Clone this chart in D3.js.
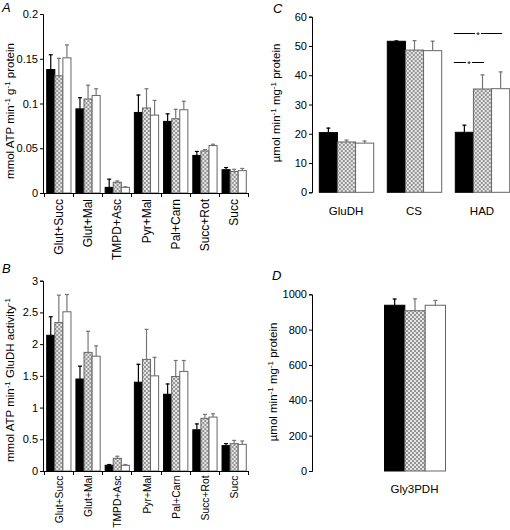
<!DOCTYPE html>
<html><head><meta charset="utf-8">
<script src="https://cdn.jsdelivr.net/npm/d3@7"></script>
<style>
body{margin:0;background:#fff}
text{font-family:"Liberation Sans",Arial,Helvetica,sans-serif;fill:#000}
</style>
</head><body>
<svg id="chart" width="510" height="530"></svg>
<script>
// ---------- data ----------
const substrates = ["Glut+Succ","Glut+Mal","TMPD+Asc","Pyr+Mal","Pal+Carn","Succ+Rot","Succ"];
const seriesNames = ["black","hatch","white"];

const aBlack    = [0.138,0.094,0.0063,0.090,0.080,0.042,0.026];
const aBlackErr = [0.017,0.013,0.0097,0.020,0.009,0.005,0.003];
const aHatch    = [0.131,0.105,0.012,0.095,0.083,0.047,0.024];
const aHatchErr = [0.020,0.016,0.002,0.022,0.011,0.002,0.003];
const aWhite    = [0.151,0.109,0.0063,0.087,0.093,0.053,0.025];
const aWhiteErr = [0.015,0.008,0.0012,0.017,0.010,0.002,0.003];
const aTicks    = [0,0.05,0.1,0.15,0.2];
const aTickLabels = ["0","0.05","0.1","0.15","0.2"];

const bBlack    = [2.14,1.45,0.09,1.40,1.21,0.65,0.40];
const bBlackErr = [0.30,0.21,0.02,0.29,0.17,0.10,0.04];
const bHatch    = [2.34,1.87,0.20,1.76,1.49,0.83,0.43];
const bHatchErr = [0.44,0.34,0.04,0.48,0.26,0.07,0.06];
const bWhite    = [2.51,1.81,0.09,1.50,1.57,0.85,0.42];
const bWhiteErr = [0.28,0.17,0.02,0.30,0.18,0.06,0.06];
const bTicks    = [0,0.5,1,1.5,2,2.5,3];
const bTickLabels = ["0","0.5","1","1.5","2","2.5","3"];

const enzymes   = ["GluDH","CS","HAD"];
const cBlack    = [20.4,51.6,20.5];
const cBlackErr = [1.7,0.3,2.6];
const cHatch    = [17.2,48.6,35.3];
const cHatchErr = [0.8,3.4,5.0];
const cWhite    = [16.8,48.4,35.4];
const cWhiteErr = [0.9,3.4,5.9];
const cTicks    = [0,10,20,30,40,50,60];
// significance bars on HAD: from black to target series, at data height
const cSigTargets = ["white","hatch"];
const cSigLevels  = [54.3,44.6];

const dEnzymes  = ["Gly3PDH"];
const dBlack    = [938];
const dBlackErr = [38];
const dHatch    = [907];
const dHatchErr = [70];
const dWhite    = [938];
const dWhiteErr = [30];
const dTicks    = [0,200,400,600,800,1000];

// ---------- drawing ----------
const svg = d3.select("#chart");
const defs = svg.append("defs");
const pat = defs.append("pattern").attr("id","hatch").attr("patternUnits","userSpaceOnUse")
  .attr("width",4).attr("height",4);
pat.append("rect").attr("width",4).attr("height",4).attr("fill","#e6e6e6");
pat.append("rect").attr("x",0).attr("y",0).attr("width",2).attr("height",2).attr("fill","#959595");
pat.append("rect").attr("x",2).attr("y",2).attr("width",2).attr("height",2).attr("fill","#959595");

const fills  = {black:"#000", hatch:"url(#hatch)", white:"#fff"};
const strokes= {black:"#000", hatch:"#666", white:"#666"};
const errCol = {black:"#000", hatch:"#777", white:"#777"};

function buildRows(cats, means, errs){
  return cats.map((c,i)=>({cat:c, vals: seriesNames.map((s,j)=>({s, v:means[j][i], e:errs[j][i]}))}));
}

function yTitle(g, x, y, parts, fs){
  const t = g.append("text").attr("transform",`translate(${x},${y}) rotate(-90)`)
    .attr("text-anchor","middle").attr("font-size",fs||11.5);
  parts.forEach(p=>{
    if(p[1]==="sup"){
      t.append("tspan").attr("font-size",8).attr("dy",-4).text(p[0]);
    } else {
      const ts = t.append("tspan").text(p[0]);
      if(p[2]) ts.attr("dy",4);
    }
  });
}

function panelLabel(x,y,txt){
  svg.append("text").attr("x",x).attr("y",y).attr("font-size",13).attr("font-style","italic").text(txt);
}

function drawBars(g, rows, x, x1, y){
  const grp = g.selectAll(".grp").data(rows).enter().append("g")
    .attr("transform",d=>`translate(${x(d.cat)},0)`);
  grp.selectAll("rect").data(d=>d.vals).enter().append("rect")
    .attr("x",d=>x1(d.s)+0.5).attr("width",x1.bandwidth())
    .attr("y",d=>y(d.v)).attr("height",d=>y(0)-y(d.v))
    .attr("fill",d=>fills[d.s]).attr("stroke",d=>strokes[d.s]).attr("stroke-width",1);
  grp.selectAll("line.err").data(d=>d.vals).enter().append("line").attr("class","err")
    .attr("x1",d=>x1(d.s)+x1.bandwidth()/2+0.5).attr("x2",d=>x1(d.s)+x1.bandwidth()/2+0.5)
    .attr("y1",d=>y(d.v)).attr("y2",d=>y(d.v+d.e))
    .attr("stroke",d=>errCol[d.s]).attr("stroke-width",1.2);
  grp.selectAll("line.cap").data(d=>d.vals).enter().append("line").attr("class","cap")
    .attr("x1",d=>x1(d.s)+x1.bandwidth()/2-1.5).attr("x2",d=>x1(d.s)+x1.bandwidth()/2+2.5)
    .attr("y1",d=>y(d.v+d.e)+0.5).attr("y2",d=>y(d.v+d.e)+0.5)
    .attr("stroke",d=>errCol[d.s]).attr("stroke-width",1.2);
}

function yAxis(g, y, xPos, ticks, labels){
  const ax = d3.axisLeft(y).tickValues(ticks).tickSize(3).tickPadding(2);
  if(labels) ax.tickFormat((d,i)=>labels[i]); else ax.tickFormat(d3.format("d"));
  const a = g.append("g").attr("transform",`translate(${xPos},0)`).call(ax);
  a.select(".domain").attr("stroke","#000");
  a.selectAll("text").attr("font-size",11).attr("font-family",'"Liberation Sans",Arial,sans-serif');
  return a;
}

// ---- Panels A and B (substrates) ----
function substratePanel(top0, topMax, maxV, means, errs, ticks, labels, labelY, labelFs, titleParts, titleY, pl, plY){
  const g = svg.append("g");
  const y = d3.scaleLinear().domain([0,maxV]).range([top0, topMax]);
  const x = d3.scaleBand().domain(substrates).range([43,249]).paddingInner(0.17).paddingOuter(0.11);
  const x1 = d3.scaleBand().domain(seriesNames).range([0,x.bandwidth()]);
  drawBars(g, buildRows(substrates, means, errs), x, x1, y);
  yAxis(g, y, 43, ticks, labels);
  // x axis
  g.append("line").attr("x1",43).attr("x2",249).attr("y1",top0+0.5).attr("y2",top0+0.5).attr("stroke","#000");
  const half = x.step()*x.paddingInner()/2;
  const bounds = substrates.map(c=>x(c)-half).concat([x(substrates[substrates.length-1])+x.bandwidth()+half]);
  g.selectAll(".xt").data(bounds).enter().append("line")
    .attr("x1",d=>Math.round(d)+0.5).attr("x2",d=>Math.round(d)+0.5)
    .attr("y1",top0).attr("y2",top0+4).attr("stroke","#000");
  g.selectAll(".xl").data(substrates).enter().append("text")
    .attr("transform",d=>`translate(${x(d)+x.bandwidth()/2+4.5},${labelY}) rotate(-90)`)
    .attr("text-anchor","end").attr("font-size",labelFs).text(d=>d);
  yTitle(g, 14, titleY, titleParts);
  panelLabel(2, plY, pl);
}

substratePanel(193, 14, 0.2, [aBlack,aHatch,aWhite],[aBlackErr,aHatchErr,aWhiteErr], aTicks, aTickLabels, 199, 12,
  [["mmol ATP min"],["-1","sup"],[" g",null,true],["-1","sup"],[" protein",null,true]], 111, "A", 12);
substratePanel(471, 280.7, 3, [bBlack,bHatch,bWhite],[bBlackErr,bHatchErr,bWhiteErr], bTicks, bTickLabels, 475.5, 10.3,
  [["mmol ATP min"],["-1","sup"],[" GluDH activity",null,true],["-1","sup"]], 380, "B", 273);

// ---- Panel C ----
(function(){
  const g = svg.append("g");
  const y = d3.scaleLinear().domain([0,60]).range([192.3,16.7]);
  const x = d3.scaleBand().domain(enzymes).range([312,516]).paddingInner(0.2).paddingOuter(0.1);
  const x1 = d3.scaleBand().domain(seriesNames).range([0,x.bandwidth()]);
  drawBars(g, buildRows(enzymes,[cBlack,cHatch,cWhite],[cBlackErr,cHatchErr,cWhiteErr]), x, x1, y);
  yAxis(g, y, 312, cTicks);
  g.selectAll(".xl").data(enzymes).enter().append("text")
    .attr("x",d=>x(d)+x.bandwidth()/2).attr("y",215).attr("text-anchor","middle").attr("font-size",11.5).text(d=>d);
  // significance markers
  const had = "HAD";
  cSigTargets.forEach((t,i)=>{
    const xa = x(had) - 1;
    const xb = x(had) + x1(t) + x1.bandwidth()/2 + 2;
    const yy = Math.round(y(cSigLevels[i]))+0.5;
    g.append("line").attr("x1",xa).attr("x2",xb).attr("y1",yy).attr("y2",yy).attr("stroke","#000").attr("stroke-width",1);
    g.append("rect").attr("x",(xa+xb)/2-3).attr("y",yy-3).attr("width",6).attr("height",6).attr("fill","#fff");
    g.append("text").attr("x",(xa+xb)/2).attr("y",yy+4).attr("text-anchor","middle").attr("font-size",9).text("*");
  });
  yTitle(g, 280, 103, [["µmol min"],["-1","sup"],[" mg",null,true],["-1","sup"],[" protein",null,true]]);
  panelLabel(273, 13, "C");
})();

// ---- Panel D ----
(function(){
  const g = svg.append("g");
  const y = d3.scaleLinear().domain([0,1000]).range([471,294.3]);
  const x = d3.scaleBand().domain(dEnzymes).range([312,517]).paddingInner(0).paddingOuter(1.18);
  const x1 = d3.scaleBand().domain(seriesNames).range([0,x.bandwidth()]);
  drawBars(g, buildRows(dEnzymes,[dBlack,dHatch,dWhite],[dBlackErr,dHatchErr,dWhiteErr]), x, x1, y);
  yAxis(g, y, 312, dTicks);
  g.selectAll(".xl").data(dEnzymes).enter().append("text")
    .attr("x",d=>x(d)+x.bandwidth()/2).attr("y",493).attr("text-anchor","middle").attr("font-size",11.5).text(d=>d);
  yTitle(g, 277, 382, [["µmol min"],["-1","sup"],[" mg",null,true],["-1","sup"],[" protein",null,true]]);
  panelLabel(272, 280, "D");
})();
</script>
</body></html>
